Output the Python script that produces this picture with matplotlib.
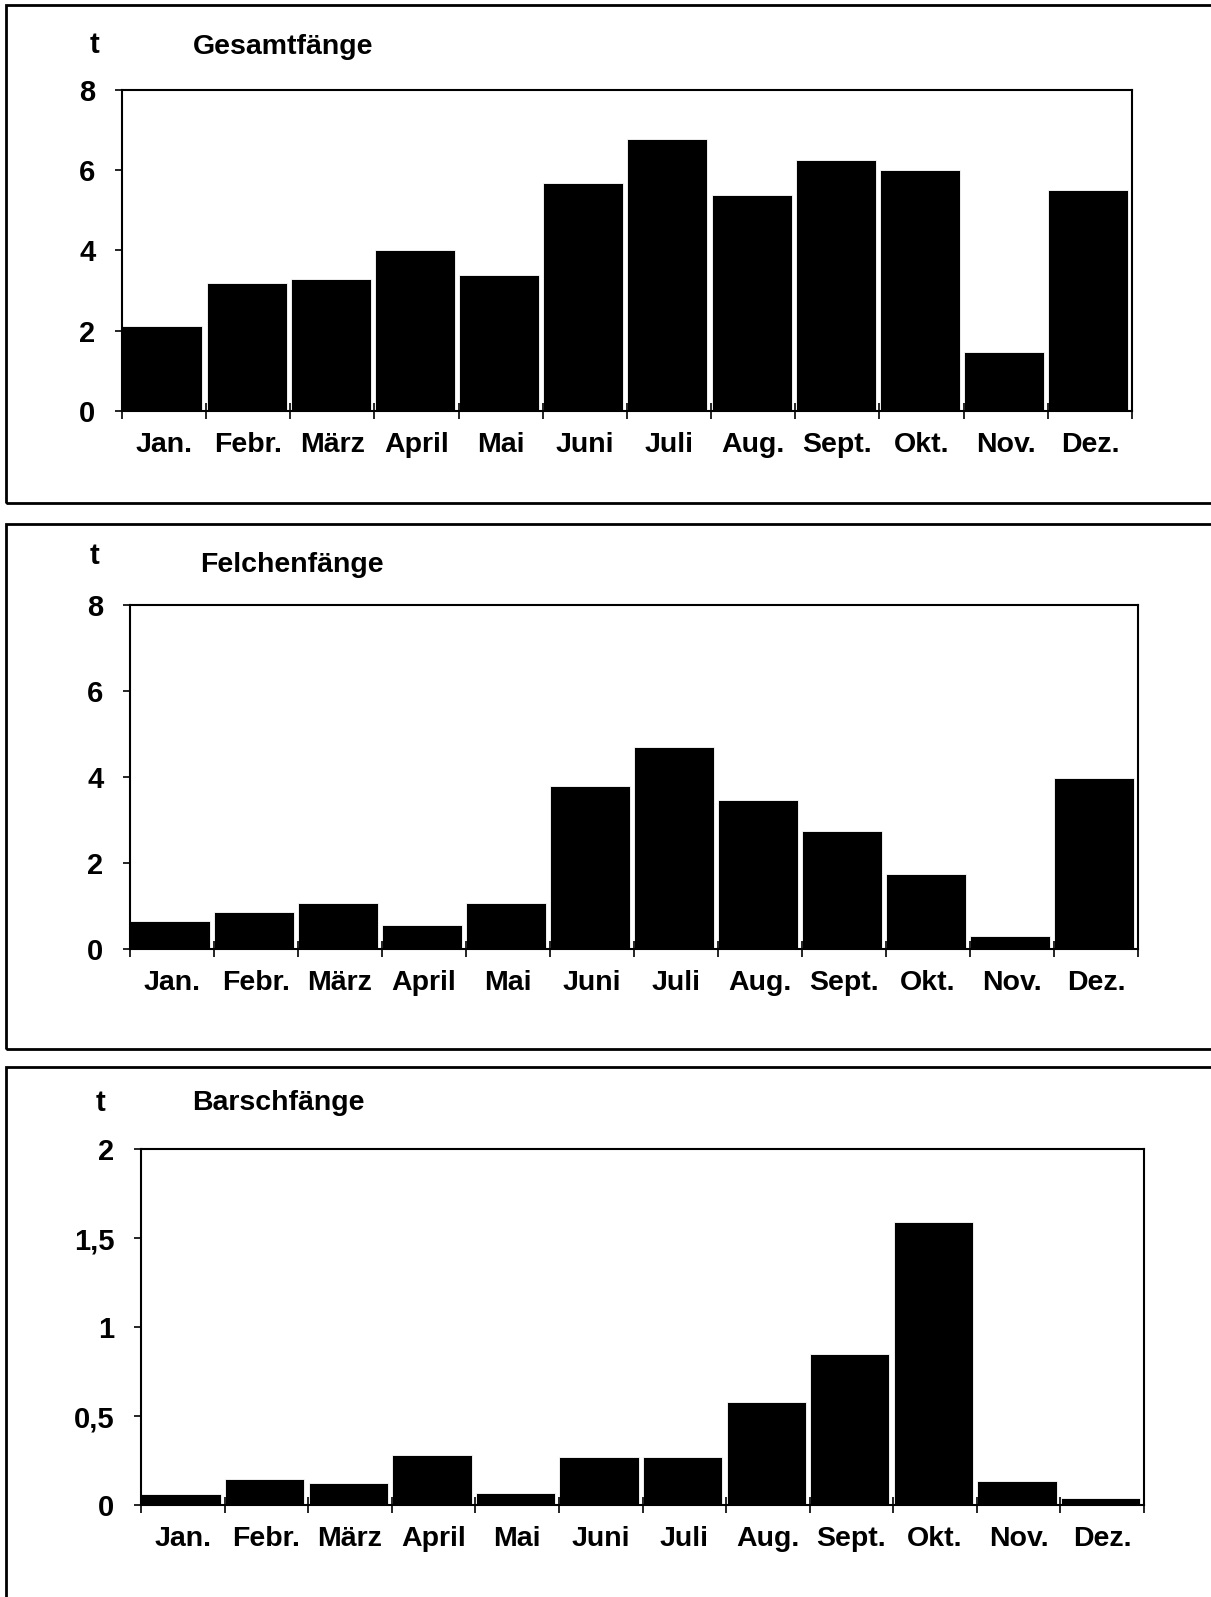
import matplotlib
matplotlib.use("Agg")
import matplotlib.pyplot as plt
from matplotlib.patches import Rectangle
import numpy as np

plt.rcParams['font.family'] = ['Liberation Sans', 'DejaVu Sans']
plt.rcParams['font.weight'] = 'bold'

months = ["Jan.", "Febr.", "März", "April", "Mai", "Juni",
          "Juli", "Aug.", "Sept.", "Okt.", "Nov.", "Dez."]

# catches in tonnes
gesamt = [2.11, 3.18, 3.28, 4.02, 3.38, 5.67, 6.79, 5.38, 6.25, 6.01, 1.48, 5.52]
felchen = [0.65, 0.87, 1.06, 0.56, 1.06, 3.79, 4.69, 3.47, 2.74, 1.75, 0.30, 3.97]
barsch = [0.06, 0.147, 0.126, 0.28, 0.07, 0.27, 0.27, 0.576, 0.85, 1.588, 0.137, 0.037]

titles = ["Gesamtfänge", "Felchenfänge", "Barschfänge"]
yticks_list = [[0, 2, 4, 6, 8], [0, 2, 4, 6, 8], [0, 0.5, 1, 1.5, 2]]
ytick_labels_list = [["0", "2", "4", "6", "8"], ["0", "2", "4", "6", "8"],
                     ["0", "0,5", "1", "1,5", "2"]]

W, H = 1211, 1597
fig = plt.figure(figsize=(W / 100, H / 100), dpi=100)


def px_rect(left, top, right, bottom):
    # pixel box -> figure fraction [x, y, w, h]
    return [left / W, 1 - bottom / H, (right - left) / W, (bottom - top) / H]


# panel frames: (left, top, right, bottom) in pixels
frames = [(6, 5, 1230, 503), (6, 524, 1230, 1049), (6, 1067, 1230, 1640)]
axes_boxes = [(122, 90, 1132, 411), (130, 605, 1138, 949), (141, 1149, 1144, 1505)]
t_pos = [(94, 45), (94, 556), (100, 1103)]
title_pos = [(193, 47), (200, 565), (192, 1103)]

for fr in frames:
    l, t, r, b = fr
    fig.patches.append(Rectangle((l / W, 1 - b / H), (r - l) / W, (b - t) / H,
                                 transform=fig.transFigure, fill=False,
                                 edgecolor='black', linewidth=2))

for i, values in enumerate([gesamt, felchen, barsch]):
    ax = fig.add_axes(px_rect(*axes_boxes[i]))
    x = np.arange(len(months))
    ax.bar(x + 0.48, values, width=0.95, color='black', edgecolor='white',
           linewidth=0.6)
    ax.set_xlim(0, 12)
    ax.set_ylim(yticks_list[i][0], yticks_list[i][-1])
    ax.set_xticks(np.arange(13))
    ax.set_xticklabels([])
    ax.set_xticks(x + 0.5, minor=True)
    ax.set_xticklabels(months, minor=True, fontsize=20.5, fontweight='bold')
    ax.tick_params(axis='x', which='major', direction='inout', length=12, width=1.2)
    ax.tick_params(axis='x', which='minor', length=0, pad=15)
    ax.set_yticks(yticks_list[i])
    ax.set_yticklabels(ytick_labels_list[i], fontsize=21, fontweight='bold')
    ax.tick_params(axis='y', direction='out', length=5, width=1.2, pad=14)
    for s in ax.spines.values():
        s.set_linewidth(1.5)
    fig.text(t_pos[i][0] / W, 1 - t_pos[i][1] / H, "t", fontsize=21,
             fontweight='bold', ha='center', va='center')
    fig.text(title_pos[i][0] / W, 1 - title_pos[i][1] / H, titles[i], fontsize=20.5,
             fontweight='bold', ha='left', va='center')

fig.savefig("out.png", dpi=100, facecolor='white')
